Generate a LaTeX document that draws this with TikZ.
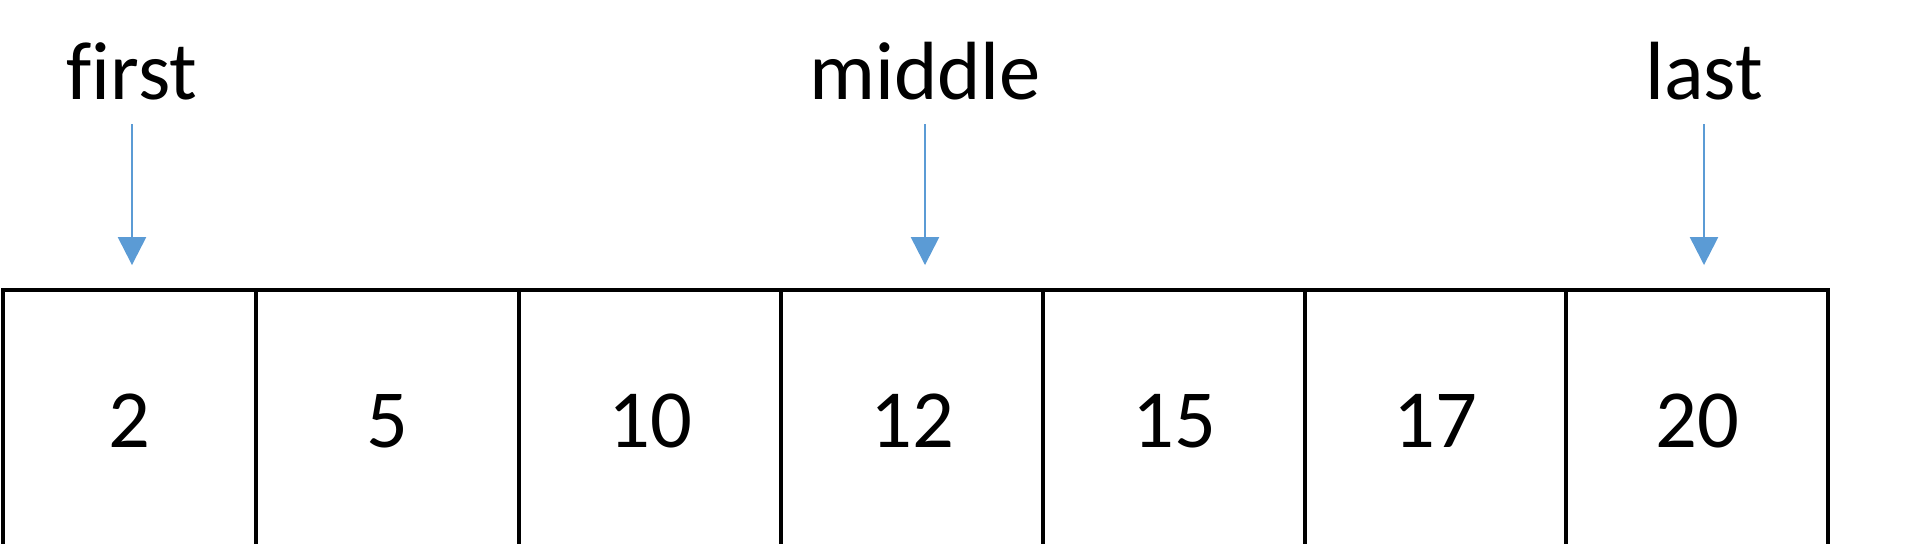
\documentclass[tikz,border=0pt]{standalone}
\usepackage{fontspec}
\setmainfont[Ligatures=NoCommon]{Carlito}
\usetikzlibrary{arrows.meta}
\definecolor{ptrblue}{HTML}{5B9BD5}

\begin{document}
\begin{tikzpicture}[
  cell/.style={draw,line width=1.1pt,minimum height=2.62cm,inner sep=0pt,font=\fontsize{23.5}{28}\selectfont},
  lbl/.style={anchor=base,inner sep=0pt,font=\fontsize{23.5}{28}\selectfont},
  ptr/.style={ptrblue,line width=0.7pt,shorten <=0.23cm,shorten >=0.23cm,-{Triangle[width=0.28cm,length=0.28cm]}}]
\useasboundingbox (0,-5.44) rectangle (19.2,0);
%\draw[help lines](0,-5.44)grid(19.2,0);
% array cells
\foreach \l/\r/\v [count=\i] in {0.03/2.56/2,2.56/5.19/5,5.19/7.81/10,7.81/10.43/12,10.43/13.05/15,13.05/15.66/17,15.66/18.28/20}
  \node[cell,minimum width={(\r-\l)*1cm}] (c\i) at ({(\l+\r)/2},-4.21){\v};
% pointers
\foreach \n/\x/\t/\c in {first/1.32/first/1,mid/9.25/middle/4,last/17.04/last/7}{
  \node[lbl] (\n) at (\x,-1.00){\t};
  \draw[ptr] (\n.south)--(\n.south |- c\c.north);
}
\end{tikzpicture}
\end{document}
